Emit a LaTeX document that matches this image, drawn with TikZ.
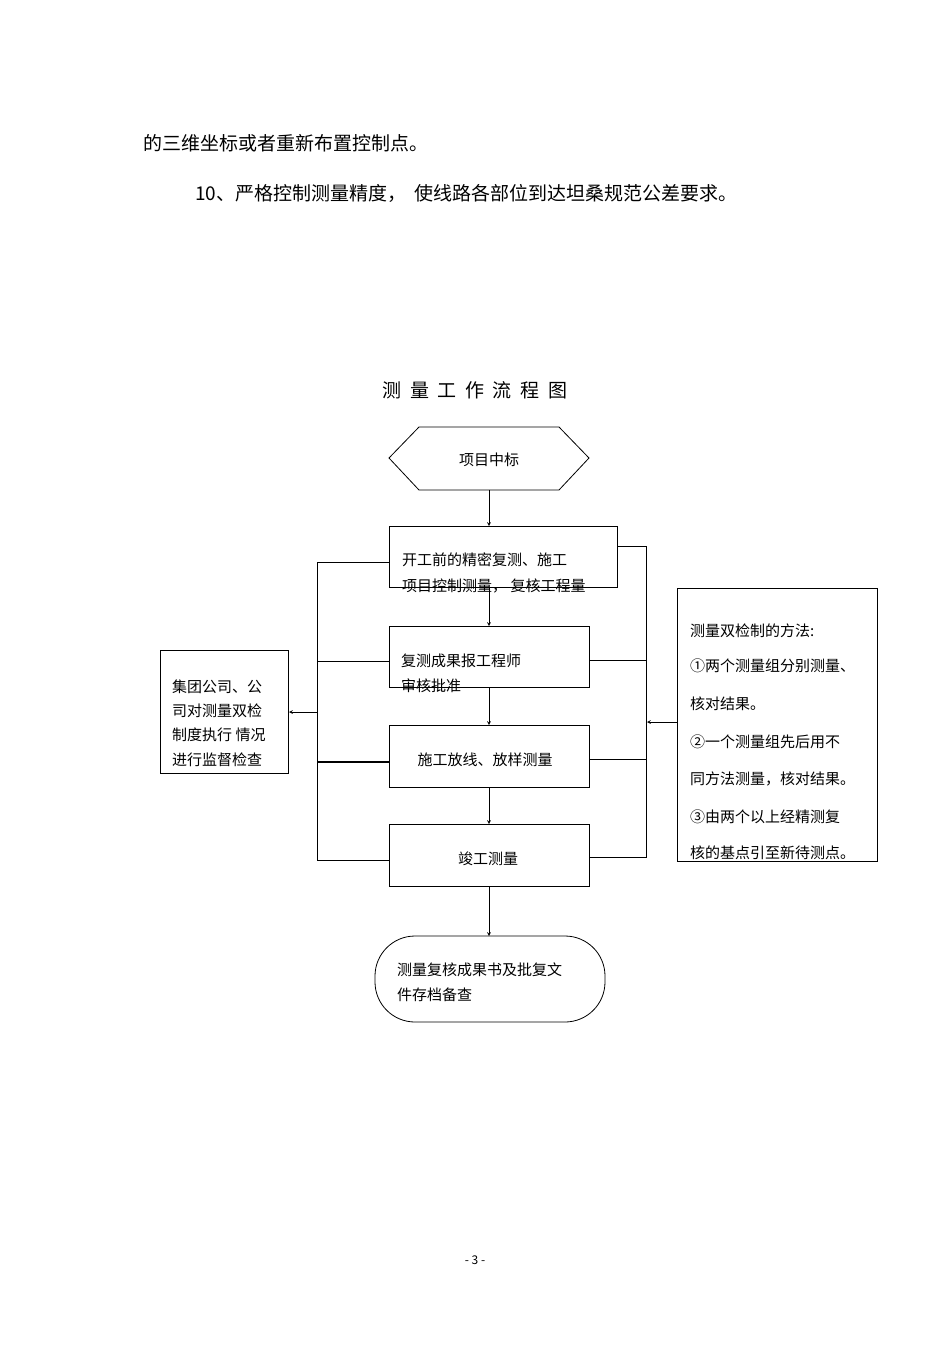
\documentclass[tikz,border=0pt]{standalone}
\usepackage{fontspec}
\setmainfont{Noto Sans CJK SC}
\begin{document}
\begin{tikzpicture}[x=1pt,y=-1pt,
 box/.style={draw,line width=0.8pt},
 ln/.style={line width=0.7pt},
 arr/.style={ln,-stealth},
 t/.style={font=\fontsize{15}{15}\selectfont,anchor=west,inner sep=0},
 tc/.style={font=\fontsize{15}{15}\selectfont,inner sep=0}]
\useasboundingbox (0,0) rectangle (950,1345);
\node[t,font=\fontsize{19}{19}\selectfont] (l1) at (143,143) {的三维坐标或者重新布置控制点。};
\node[t,font=\fontsize{19}{19}\selectfont] (l2) at (195,193) {10、严格控制测量精度，\ \ 使线路各部位到达坦桑规范公差要求。};
\node[tc,font=\fontsize{19}{19}\selectfont] (title) at (475,390) {测\ \ 量\ \ 工\ \ 作\ \ 流\ \ 程\ \ 图};
% hexagon
\draw[box] (389,458) -- (419,427) -- (559,427) -- (589,458) -- (559,490) -- (419,490) -- cycle;
\coordinate (hb) at (489,490);
\node[tc] (hex) at (489,460) {项目中标};
% boxes
\draw[box] (389,526) rectangle (617,587);
\node[t] at (402,560) {开工前的精密复测、施工};
\node[t] at (402,586) {项目控制测量，\ 复核工程量};
\draw[box] (389,626) rectangle (589,687);
\node[t] at (401,661) {复测成果报工程师};
\node[t] at (401,686) {审核批准};
\draw[box] (389,725) rectangle (589,787);
\node[tc] at (485,760) {施工放线、放样测量};
\draw[box] (389,824) rectangle (589,886);
\node[tc] at (488,859) {竣工测量};
\draw[box,rounded corners=40pt] (375,936) rectangle (605,1022);
\node[t] at (397,970) {测量复核成果书及批复文};
\node[t] at (397,995) {件存档备查};
% vertical arrows
\coordinate (a0) at (489,490); \coordinate (a1) at (489,526);
\coordinate (b0) at (489,587); \coordinate (b1) at (489,626);
\coordinate (c0) at (489,687); \coordinate (c1) at (489,725);
\coordinate (d0) at (489,787); \coordinate (d1) at (489,824);
\coordinate (e0) at (489,886); \coordinate (e1) at (489,936);
\foreach \p/\q in {a0/a1,b0/b1,c0/c1,d0/d1,e0/e1} \draw[arr] (\p) -- (\q);
% left bracket
\draw[ln] (389,562) -- (317,562) -- (317,860) -- (389,860);
\draw[ln] (317,661) -- (389,661);
\draw[line width=1.2pt] (317,762) -- (389,762);
\draw[box] (160,650) rectangle (288,773);
\node[t] at (172,687) {集团公司、公};
\node[t] at (172,711) {司对测量双检};
\node[t] at (172,735) {制度执行 情况};
\node[t] at (172,760) {进行监督检查};
\draw[arr] (317,712) -- (289,712);
% right bracket
\draw[ln] (617,546) -- (646,546) -- (646,857) -- (589,857);
\draw[ln] (589,660) -- (646,660);
\draw[ln] (589,759) -- (646,759);
\draw[box] (677,588) rectangle (877,861);
\node[t] at (690,631) {测量双检制的方法:};
\node[t] at (690,666) {①两个测量组分别测量、};
\node[t] at (690,704) {核对结果。};
\node[t] at (690,742) {②一个测量组先后用不};
\node[t] at (690,779) {同方法测量，核对结果。};
\node[t] at (690,817) {③由两个以上经精测复};
\node[t] at (690,853) {核的基点引至新待测点。};
\draw[arr] (677,722) -- (647,722);
\node[tc,font=\fontsize{12}{12}\selectfont] (pg) at (475,1260) {- 3 -};
\end{tikzpicture}
\end{document}
